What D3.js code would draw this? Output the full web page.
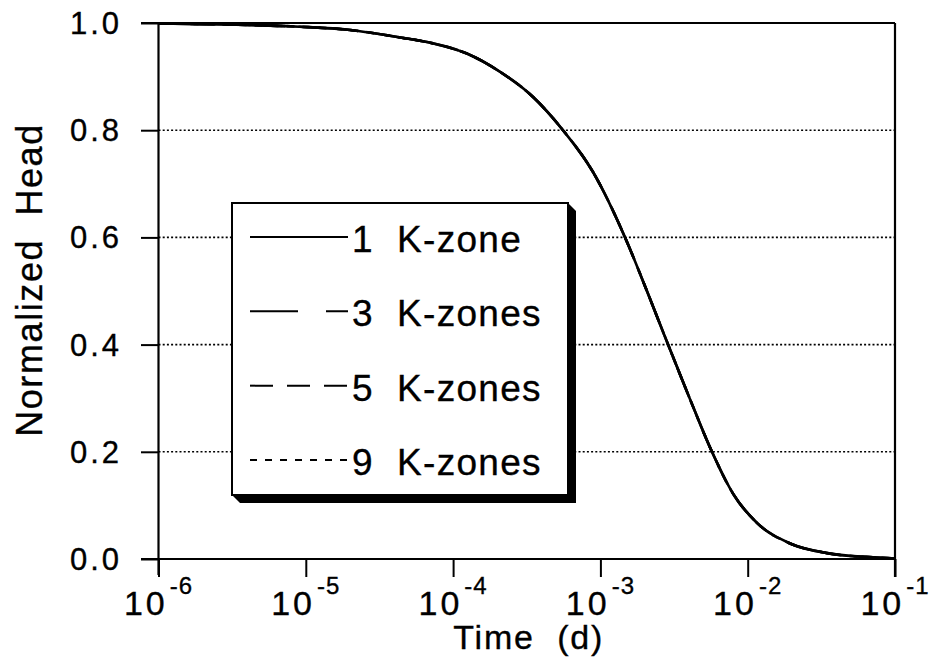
<!DOCTYPE html>
<html>
<head>
<meta charset="utf-8">
<script src="https://cdn.jsdelivr.net/npm/d3@7"></script>
<style>
  html, body { margin: 0; padding: 0; background: #fff; }
  svg text { font-family: "Liberation Sans", Arial, Helvetica, sans-serif; fill: #000; stroke: #000; stroke-width: 0.35px; }
</style>
</head>
<body>
<svg id="chart" width="931" height="662"></svg>
<script>
// ---- data ----
const timeDays = [1e-6, 3.06e-6, 9.14e-6, 2.0e-5, 4.36e-5, 7.3e-5, 1.24e-4, 2.08e-4, 3.49e-4, 5.57e-4, 8.91e-4, 1.47e-3, 2.07e-3, 2.88e-3, 4.06e-3, 5.72e-3, 7.95e-3, 1.16e-2, 1.94e-2, 3.46e-2, 7.09e-2, 1e-1];
const head1 = [0.999, 0.997, 0.993, 0.987, 0.973, 0.962, 0.943, 0.909, 0.862, 0.800, 0.722, 0.600, 0.500, 0.400, 0.298, 0.200, 0.122, 0.067, 0.029, 0.011, 0.003, 0.001];
const head3 = [0.999, 0.997, 0.993, 0.987, 0.973, 0.962, 0.943, 0.909, 0.862, 0.800, 0.722, 0.600, 0.500, 0.400, 0.298, 0.200, 0.122, 0.067, 0.029, 0.011, 0.003, 0.001];
const head5 = [0.999, 0.997, 0.993, 0.987, 0.973, 0.962, 0.943, 0.909, 0.862, 0.800, 0.722, 0.600, 0.500, 0.400, 0.298, 0.200, 0.122, 0.067, 0.029, 0.011, 0.003, 0.001];
const head9 = [0.999, 0.997, 0.993, 0.987, 0.973, 0.962, 0.943, 0.909, 0.862, 0.800, 0.722, 0.600, 0.500, 0.400, 0.298, 0.200, 0.122, 0.067, 0.029, 0.011, 0.003, 0.001];
const seriesNames = ["1  K-zone", "3  K-zones", "5  K-zones", "9  K-zones"];
const xTickExps = [-6, -5, -4, -3, -2, -1];
const yTicks = [0.0, 0.2, 0.4, 0.6, 0.8, 1.0];
const gridValues = [0.2, 0.4, 0.6, 0.8];
const xTitle = "Time  (d)";
const yTitle = "Normalized  Head";

(function () {
// ---- layout ----
const svg = d3.select("#chart");
const pLeft = 158.5, pRight = 895, pTop = 23, pBottom = 559;
const x = d3.scaleLog().domain([1e-6, 1e-1]).range([pLeft, pRight]);
const y = d3.scaleLinear().domain([0, 1]).range([pBottom, pTop]);

// grid lines (dotted)
svg.append("g").selectAll("line").data(gridValues).join("line")
  .attr("x1", pLeft).attr("x2", pRight)
  .attr("y1", d => y(d)).attr("y2", d => y(d))
  .attr("stroke", "#000").attr("stroke-width", 1.6)
  .attr("stroke-dasharray", "2,2.2");

// axes via d3
const yAxis = d3.axisLeft(y).tickValues(yTicks).tickSize(17.5).tickFormat("");
const gy = svg.append("g").attr("transform", `translate(${pLeft},0)`).call(yAxis);
gy.select(".domain").remove();
gy.selectAll(".tick line").attr("stroke", "#000").attr("stroke-width", 2);

const xAxis = d3.axisBottom(x).tickValues(xTickExps.map(e => Math.pow(10, e))).tickSize(18).tickFormat("");
const gx = svg.append("g").attr("transform", `translate(0,${pBottom})`).call(xAxis);
gx.select(".domain").remove();
gx.selectAll(".tick line").attr("stroke", "#000").attr("stroke-width", 2);

// frame
const frame = svg.append("g").attr("stroke", "#000").attr("stroke-width", 2.2).attr("fill", "none");
frame.append("line").attr("x1", pLeft - 17.5).attr("x2", pRight).attr("y1", y(1)).attr("y2", y(1));
frame.append("line").attr("x1", pLeft - 17.5).attr("x2", pRight).attr("y1", y(0)).attr("y2", y(0));
frame.append("line").attr("x1", pLeft).attr("x2", pLeft).attr("y1", y(1)).attr("y2", y(0) + 16);
frame.append("line").attr("x1", pRight).attr("x2", pRight).attr("y1", y(1)).attr("y2", y(0) + 18);

// y tick labels
svg.append("g").selectAll("text").data(yTicks).join("text")
  .attr("x", 122).attr("y", d => y(d) + 11)
  .attr("text-anchor", "end")
  .style("font-size", "31px").style("letter-spacing", "3px")
  .text(d => d.toFixed(1));

// x tick labels 10^e
const xl = svg.append("g").selectAll("text").data(xTickExps).join("text")
  .attr("x", d => x(Math.pow(10, d)))
  .attr("y", 615)
  .attr("text-anchor", "middle")
  .style("font-size", "34px").style("letter-spacing", "3px");
xl.append("tspan").text("10");
xl.append("tspan").attr("dx", 2).attr("dy", -21).style("font-size", "24px").style("letter-spacing", "1px")
  .text(d => "-" + Math.abs(d));

// axis titles
svg.append("text").attr("x", (pLeft + pRight) / 2 + 2).attr("y", 649)
  .attr("text-anchor", "middle").style("font-size", "34px").style("letter-spacing", "1.8px")
  .style("white-space", "pre").text(xTitle);
svg.append("text").attr("transform", "translate(42,280) rotate(-90)")
  .attr("text-anchor", "middle").style("font-size", "36px").style("letter-spacing", "1.6px")
  .style("white-space", "pre").text(yTitle);

// curves
const allSeries = [head1, head3, head5, head9];
const dashes = [null, "48,28", "22,13", "8,8"];
const line = d3.line().x(d => x(d[0])).y(d => y(d[1])).curve(d3.curveMonotoneX);
svg.append("g").selectAll("path").data(allSeries).join("path")
  .attr("d", s => line(timeDays.map((t, i) => [t, s[i]])))
  .attr("fill", "none").attr("stroke", "#000").attr("stroke-width", 2.6)
  .attr("stroke-dasharray", (s, i) => dashes[i]);

// legend
const lx0 = 232, ly0 = 203, lx1 = 568, ly1 = 495, sh = 8;
svg.append("path")
  .attr("d", `M${lx1},${ly0} L${lx1 + sh},${ly0 + sh} L${lx1 + sh},${ly1 + sh} L${lx0 + sh},${ly1 + sh} L${lx0},${ly1} L${lx1},${ly1} Z`)
  .attr("fill", "#000");
svg.append("rect").attr("x", lx0).attr("y", ly0).attr("width", lx1 - lx0).attr("height", ly1 - ly0)
  .attr("fill", "#fff").attr("stroke", "#000").attr("stroke-width", 2);

const legendRowY = d3.scalePoint().domain(d3.range(seriesNames.length)).range([237, 460]);
const legendDash = [null, "48,28,24,0", "23,14", "7,8"];
const lg = svg.append("g").selectAll("g").data(seriesNames).join("g")
  .attr("transform", (d, i) => `translate(0,${legendRowY(i)})`);
lg.append("line").attr("x1", 250).attr("x2", 348).attr("y1", 0).attr("y2", 0)
  .attr("stroke", "#000").attr("stroke-width", 2)
  .attr("stroke-dasharray", (d, i) => legendDash[i]);
lg.append("text").attr("x", 352).attr("y", 15)
  .style("font-size", "37px").style("letter-spacing", "1.3px").style("white-space", "pre")
  .text(d => d);
})();
</script>
</body>
</html>
